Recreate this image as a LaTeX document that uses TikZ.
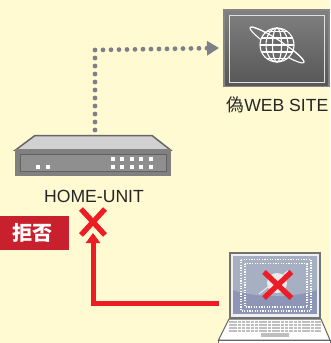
\documentclass[tikz,border=0pt]{standalone}
\usepackage{fontspec}
\setmainfont{Liberation Sans}
\newfontfamily\cjk{Noto Sans CJK JP}
\usetikzlibrary{arrows.meta}
\definecolor{paper}{HTML}{FFFAD2}
\definecolor{dotgray}{HTML}{7F8087}
\definecolor{alarm}{HTML}{EE1C25}
\definecolor{tagred}{HTML}{C8202C}
\definecolor{screentop}{HTML}{A6B0C2}
\definecolor{screenlow}{HTML}{8E96B8}
\tikzset{
  lbl/.style={font=\fontsize{17.6}{20}\selectfont,text=black!85,inner sep=0pt},
  box/.style={draw=none,inner sep=0pt,minimum width=#1},
  dotline/.style={dotgray,line width=4.8pt,line cap=round,dash pattern=on 0pt off 8pt},
  stopline/.style={alarm,line width=5pt},
  cross/.style={alarm,line width=5.3pt},
  globe/.style={draw=white,line width=1.1pt}
}
\begin{document}
\begin{tikzpicture}[x=1pt,y=-1pt]
  \useasboundingbox[fill=paper] (0,0) rectangle (330,343);

  % web site
  \fill[black!48] (223,9) rectangle (330,87);
  \fill[top color=black!50,bottom color=black!66] (225,11) rectangle (328,85);
  \draw[black!12,line width=1pt] (229,15) rectangle (324,82);
  \begin{scope}[shift={(277,45)},globe]
    \draw[rotate=-33] (0,0) ellipse (32 and 5);
    \fill[black!58] (0,0) circle (17);
    \draw (0,0) circle (17);
    \draw (0,0) ellipse (4.5 and 17);
    \draw (0,0) ellipse (11 and 17);
    \draw (-15.5,-7) -- (15.5,-7);
    \draw (-17,0) -- (17,0);
    \draw (-15.5,7) -- (15.5,7);
    \draw (-10,-13.5) -- (10,-13.5);
    \draw (-10,13.5) -- (10,13.5);
    \draw[rotate=-33] (-32,0) arc[start angle=180,end angle=360,x radius=32,y radius=5];
  \end{scope}
  \node[box=107pt,minimum height=78pt] (site) at (276.5,48) {};
  \node[lbl] (sitelabel) at (277.5,105) {{\cjk 偽}WEB SITE};

  % home unit
  \fill[black!18,draw=black!60,line width=1.5pt] (15.5,150) -- (35,135.5) -- (152,135.5) -- (170.5,150) -- cycle;
  \fill[black!50] (15,149) rectangle (171,176);
  \fill[black!44,draw=black!62,line width=1pt] (20,154) rectangle (166,171);
  \foreach \x in {36,46} \fill[white] (\x,165) rectangle +(4,4);
  \foreach \x in {111,120,130,139,149} {
    \fill[white] (\x,157) rectangle +(4,4);
    \fill[white] (\x,165) rectangle +(4,4);
  }
  \node[box=156pt,minimum height=41pt] (unit) at (93,155.5) {};
  \node[lbl] (unitlabel) at (94,196) {HOME-UNIT};

  % laptop
  \fill[black!55] (229,252) rectangle (321,319);
  \fill[black!6] (231,254) rectangle (319,317);
  \fill[screenlow] (233,256) rectangle (317,314);
  \fill[screentop] (233,256) -- (317,256) -- (317,290) .. controls (295,298) and (255,298) .. (233,290) -- cycle;
  \draw[white,line width=1.2pt,dash pattern=on 1.3pt off 1.3pt] (241,259.5) rectangle (311,311);
  \draw[white,line width=1.2pt,dash pattern=on 1.3pt off 1.3pt] (245,263.5) rectangle (307,307);
  \fill[white,draw=black!60,line width=1pt] (229,319) -- (321,319) -- (330,340) -- (218.5,340) -- cycle;
  \fill[white,draw=black!60,line width=1pt] (218.5,340) rectangle (330,344);
  \foreach \y in {322,325,328,331}
    \draw[black!25,line width=2pt,dash pattern=on 3.5pt off .8pt] (229,\y) -- (321,\y);
  \fill[black!25] (261,333) rectangle (289,337);
  \node[box=92pt,minimum height=66pt] (pc) at (275,285) {};
  \draw[black!8,line width=1pt] (259,294) -- (288,271);
  \fill[black!8] (277,283) circle (10);
  \draw[cross] (264,272) -- (291.5,298);
  \draw[cross] (291.5,272) -- (264,298);

  % refused
  \node[fill=tagred,text=white,inner sep=0pt,minimum width=69pt,minimum height=34pt,font=\cjk\fontsize{20}{22}\selectfont\bfseries] (tag) at (34.5,233) {\kern-3pt 拒否};
  \draw[cross] (81,209) -- (105,235);
  \draw[cross] (105,209) -- (81,235);

  % connectors
  \coordinate (elbow) at (95,50);
  \coordinate (stop) at (93,233);
  \coordinate (turn) at (93,303);
  \draw[dotline,-{Triangle[length=12pt,width=14pt,fill=dotgray]}] (95,130) -- (elbow) -- (site.west -| 219,50);
  \draw[stopline,-{Triangle[length=10pt,width=14pt]}] (pc.west |- turn) ++(-10,0) -- (turn) -- (stop);
\end{tikzpicture}
\end{document}
